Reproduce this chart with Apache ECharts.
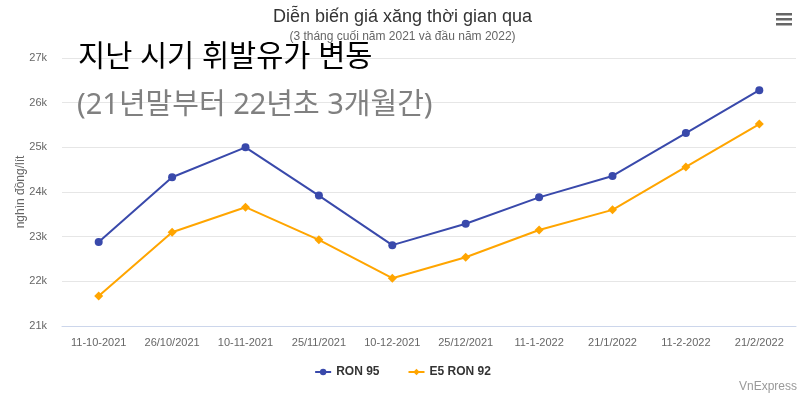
<!DOCTYPE html>
<html>
<head>
<meta charset="utf-8">
<script src="https://cdn.jsdelivr.net/npm/echarts@6/dist/echarts.min.js"></script>
<style>
  html, body { margin: 0; padding: 0; background: #fff; }
  #chart { width: 805px; height: 397px; }
</style>
</head>
<body>
<div id="chart"></div>
<script>
const categories = ['11-10-2021', '26/10/2021', '10-11-2021', '25/11/2021', '10-12-2021',
  '25/12/2021', '11-1-2022', '21/1/2022', '11-2-2022', '21/2/2022'];
const ron95 = [22880, 24330, 25000, 23920, 22810, 23290, 23880, 24360, 25320, 26280];
const e5ron92 = [21670, 23100, 23660, 22930, 22070, 22540, 23150, 23600, 24560, 25520];
const yTicks = [21000, 22000, 23000, 24000, 25000, 26000, 27000];

const chart = echarts.init(document.getElementById('chart'));

chart.setOption({
  animation: false,
  backgroundColor: '#fff',
  title: {
    text: 'Diễn biến giá xăng thời gian qua',
    subtext: '(3 tháng cuối năm 2021 và đầu năm 2022)',
    left: 'center',
    top: 3,
    itemGap: 5,
    textStyle: { fontFamily: 'Liberation Sans', fontSize: 18, fontWeight: 'normal', color: '#333' },
    subtextStyle: { fontFamily: 'Liberation Sans', fontSize: 12, color: '#666' }
  },
  grid: { left: 62, right: 9, top: 58, bottom: 71 },
  legend: {
    bottom: 14,
    left: 'center',
    itemWidth: 16,
    itemHeight: 8,
    itemGap: 28,
    textStyle: { fontFamily: 'Liberation Sans', fontSize: 12, fontWeight: 'bold', color: '#333' },
    data: ['RON 95', 'E5 RON 92']
  },
  xAxis: {
    type: 'category',
    data: categories,
    boundaryGap: true,
    axisLine: { lineStyle: { color: '#ccd6eb' } },
    axisTick: { show: false },
    axisLabel: { fontFamily: 'Liberation Sans', fontSize: 11, color: '#666', margin: 11, interval: 0 }
  },
  yAxis: {
    type: 'value',
    min: yTicks[0],
    max: yTicks[yTicks.length - 1],
    interval: 1000,
    name: 'nghìn đồng/lít',
    nameLocation: 'middle',
    nameGap: 35,
    nameMoveOverlap: false,
    nameTextStyle: { fontFamily: 'Liberation Sans', fontSize: 12, color: '#666' },
    axisLine: { show: false },
    axisTick: { show: false },
    splitLine: { lineStyle: { color: '#e6e6e6' } },
    axisLabel: {
      fontFamily: 'Liberation Sans', fontSize: 11, color: '#666', margin: 15,
      formatter: v => (v / 1000) + 'k'
    }
  },
  series: [
    {
      name: 'RON 95',
      type: 'line',
      data: ron95,
      color: '#3949ab',
      symbol: 'circle',
      symbolSize: 8,
      lineStyle: { width: 2 },
      itemStyle: { color: '#3949ab' }
    },
    {
      name: 'E5 RON 92',
      type: 'line',
      data: e5ron92,
      color: '#ffa500',
      symbol: 'diamond',
      symbolSize: 9,
      lineStyle: { width: 2 },
      itemStyle: { color: '#ffa500' }
    }
  ],
  graphic: [
    {
      type: 'text', left: 78, top: 43, z: 100,
      style: { text: '지난 시기 휘발유가 변동', fontFamily: '"Noto Sans", "Noto Sans CJK KR"', fontSize: 29.5, fill: '#000' }
    },
    {
      type: 'text', left: 77, top: 91, z: 100,
      style: { text: '(21년말부터 22년초 3개월간)', fontFamily: '"Noto Sans", "Noto Sans CJK KR"', fontSize: 29, fill: '#808080' }
    },
    {
      type: 'text', right: 8, bottom: 4,
      style: { text: 'VnExpress', fontFamily: 'Liberation Sans', fontSize: 12, fill: '#999' }
    },
    { type: 'rect', shape: { x: 776, y: 13, width: 16, height: 2.5 }, style: { fill: '#666' } },
    { type: 'rect', shape: { x: 776, y: 18, width: 16, height: 2.5 }, style: { fill: '#666' } },
    { type: 'rect', shape: { x: 776, y: 23, width: 16, height: 2.5 }, style: { fill: '#666' } }
  ]
});
</script>
</body>
</html>
